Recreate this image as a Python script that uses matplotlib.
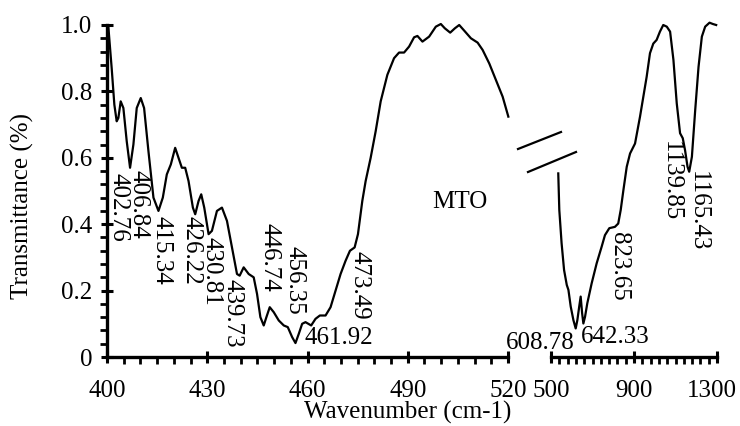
import matplotlib
matplotlib.use("Agg")
import matplotlib.pyplot as plt
from matplotlib.ticker import FixedLocator, MultipleLocator, FuncFormatter
from matplotlib.lines import Line2D
from matplotlib.transforms import ScaledTranslation

plt.rcParams['font.family'] = ['Liberation Serif', 'DejaVu Serif']

# ---------- data ----------
wn_low = [400.4, 401.4, 402.2, 402.9, 403.4, 404.1, 404.9, 405.9, 406.9, 407.9,
          408.9, 410.1, 411.1, 412.4, 413.9, 415.4, 416.7, 417.9, 419.1, 420.4,
          421.4, 422.4, 423.4, 424.4, 425.7, 426.4, 427.4, 428.2, 429.1, 430.4,
          431.4, 432.9, 434.4, 435.9, 437.4, 438.9, 439.7, 440.9, 442.4, 443.9,
          444.9, 445.9, 446.9, 447.7, 448.7, 449.9, 451.4, 452.9, 454.1, 455.4,
          456.4, 457.4, 458.4, 459.4, 461.1, 462.4, 463.7, 465.4, 466.9, 468.4,
          469.9, 471.4, 472.7, 474.1, 475.1, 476.4, 477.4, 478.9, 480.4, 481.9,
          483.9, 485.9, 487.4, 488.9, 490.4, 491.9, 492.9, 494.4, 496.4, 498.4,
          499.9, 501.1, 502.7, 504.1, 505.4, 506.9, 508.9, 510.9, 512.4, 514.4,
          516.4, 518.4, 520.1]
tr_low = [0.995, 0.87, 0.76, 0.71, 0.72, 0.77, 0.75, 0.65, 0.57, 0.64,
          0.75, 0.78, 0.75, 0.62, 0.48, 0.44, 0.48, 0.55, 0.58, 0.63,
          0.60, 0.57, 0.57, 0.53, 0.45, 0.43, 0.47, 0.49, 0.45, 0.37,
          0.38, 0.44, 0.45, 0.41, 0.33, 0.25, 0.245, 0.27, 0.25, 0.24,
          0.19, 0.12, 0.095, 0.12, 0.15, 0.135, 0.11, 0.095, 0.09, 0.06,
          0.042, 0.07, 0.10, 0.105, 0.095, 0.115, 0.125, 0.125, 0.15, 0.20,
          0.25, 0.29, 0.32, 0.33, 0.37, 0.47, 0.53, 0.60, 0.68, 0.77,
          0.85, 0.90, 0.917, 0.917, 0.935, 0.963, 0.967, 0.95, 0.965, 0.995,
          1.003, 0.99, 0.977, 0.99, 1.0, 0.983, 0.96, 0.947, 0.925, 0.884,
          0.834, 0.784, 0.724]

wn_high = [535, 540, 551, 563, 576, 584, 595, 608, 619, 627,
           636, 643, 650, 656, 664, 675, 696, 720, 744, 760,
           781, 808, 824, 836, 849, 865, 881, 905, 929, 945,
           961, 977, 993, 1009, 1025, 1041, 1058, 1074, 1090, 1106,
           1122, 1135, 1146, 1158, 1166, 1179, 1195, 1211, 1227, 1243,
           1264, 1280, 1296]
tr_high = [0.553, 0.443, 0.343, 0.262, 0.217, 0.202, 0.152, 0.111, 0.086, 0.111,
           0.152, 0.182, 0.132, 0.101, 0.121, 0.162, 0.222, 0.282, 0.332, 0.367,
           0.388, 0.392, 0.402, 0.443, 0.503, 0.573, 0.613, 0.643, 0.724, 0.784,
           0.844, 0.915, 0.944, 0.955, 0.980, 1.0, 0.995, 0.980, 0.895, 0.764,
           0.674, 0.659, 0.623, 0.573, 0.558, 0.603, 0.744, 0.874, 0.965, 0.995,
           1.007, 1.003, 1.0]

low_ticks = [400, 430, 460, 490, 520]
high_ticks = [500, 900, 1300]

# peak labels: text, x, y (top of the vertical text)
low_labels = ['402.76', '406.84', '415.34', '426.22', '430.81', '439.73',
              '446.74', '456.35', '473.49']
low_lab_x = [403.3, 409.3, 416.2, 425.2, 431.3, 437.6, 448.6, 456.1, 475.6]
low_lab_y = [0.555, 0.562, 0.425, 0.425, 0.362, 0.235, 0.405, 0.335, 0.320]
high_labels = ['823.65', '1139.85', '1165.43']
high_lab_x = [829, 1078, 1206]
high_lab_y = [0.378, 0.650, 0.560]

FS = 18

fig = plt.figure(figsize=(7.4, 4.26), dpi=100)
W, H = 740.0, 426.0
bottom = 1 - 357 / H
height = 332 / H
ax1 = fig.add_axes([107 / W, bottom, (508 - 107) / W, height])
ax2 = fig.add_axes([551 / W, bottom, (717 - 551) / W, height])

ax1.plot(wn_low, tr_low, color='black', lw=1.6, clip_on=False)
ax2.plot(wn_high, tr_high, color='black', lw=1.6, clip_on=False)

ax1.set_xlim(400, 520)
ax2.set_xlim(500, 1300)
for ax in (ax1, ax2):
    ax.set_ylim(0, 1.0)
    ax.spines['top'].set_visible(False)
    ax.spines['right'].set_visible(False)
    for s in ('left', 'bottom'):
        ax.spines[s].set_linewidth(2.4)
    ax.tick_params(which='major', direction='inout', length=9, width=2.2,
                   labelsize=FS, pad=12)
    ax.tick_params(which='minor', direction='out', length=5, width=2)

ax1.xaxis.set_major_locator(FixedLocator(low_ticks))
ax1.xaxis.set_minor_locator(MultipleLocator(5))
ax1.yaxis.set_major_locator(MultipleLocator(0.2))
ax1.yaxis.set_minor_locator(MultipleLocator(0.04))
ax1.yaxis.set_major_formatter(FuncFormatter(lambda v, p: '0' if abs(v) < 1e-9 else f'{v:.1f}'))
ax1.tick_params(axis='y', pad=6)

ax2.xaxis.set_major_locator(FixedLocator(high_ticks))
ax2.xaxis.set_minor_locator(MultipleLocator(40, offset=20))
ax2.spines['left'].set_visible(False)
ax2.yaxis.set_visible(False)

# nudge the last tick label so it stays inside the figure
fig.canvas.draw()
last = ax2.get_xticklabels()[-1]
last.set_transform(last.get_transform() + ScaledTranslation(-0.05, 0, fig.dpi_scale_trans))

# ---------- peak labels ----------
for s, x, y in zip(low_labels, low_lab_x, low_lab_y):
    ax1.text(x, y, s, rotation=270, ha='center', va='top', fontsize=FS)
for s, x, y in zip(high_labels, high_lab_x, high_lab_y):
    ax2.text(x, y, s, rotation=270, ha='center', va='top', fontsize=FS)
ax1.text(459.0, 0.057, '461.92', ha='left', va='center', fontsize=FS)
ax2.text(447, 0.042, '608.78', ha='center', va='center', fontsize=FS)
ax2.text(811, 0.060, '642.33', ha='center', va='center', fontsize=FS)
ax1.text(505.6, 0.467, 'MTO', ha='center', va='center', fontsize=FS)

# ---------- axis titles ----------
fig.text(22 / W, 1 - 206 / H, 'Transmittance (%)', rotation=90,
         ha='center', va='center', fontsize=FS)
fig.text(408 / W, 1.5 / H, 'Wavenumber (cm-1)', ha='center', va='bottom',
         fontsize=FS)

# ---------- break marks ----------
for (x0, y0), (x1, y1) in [((518, 149), (561, 132)), ((528, 172), (576, 152))]:
    fig.add_artist(Line2D([x0 / W, x1 / W], [1 - y0 / H, 1 - y1 / H],
                          transform=fig.transFigure, color='black', lw=1.6))

fig.savefig('out.png', dpi=100, facecolor='white')
